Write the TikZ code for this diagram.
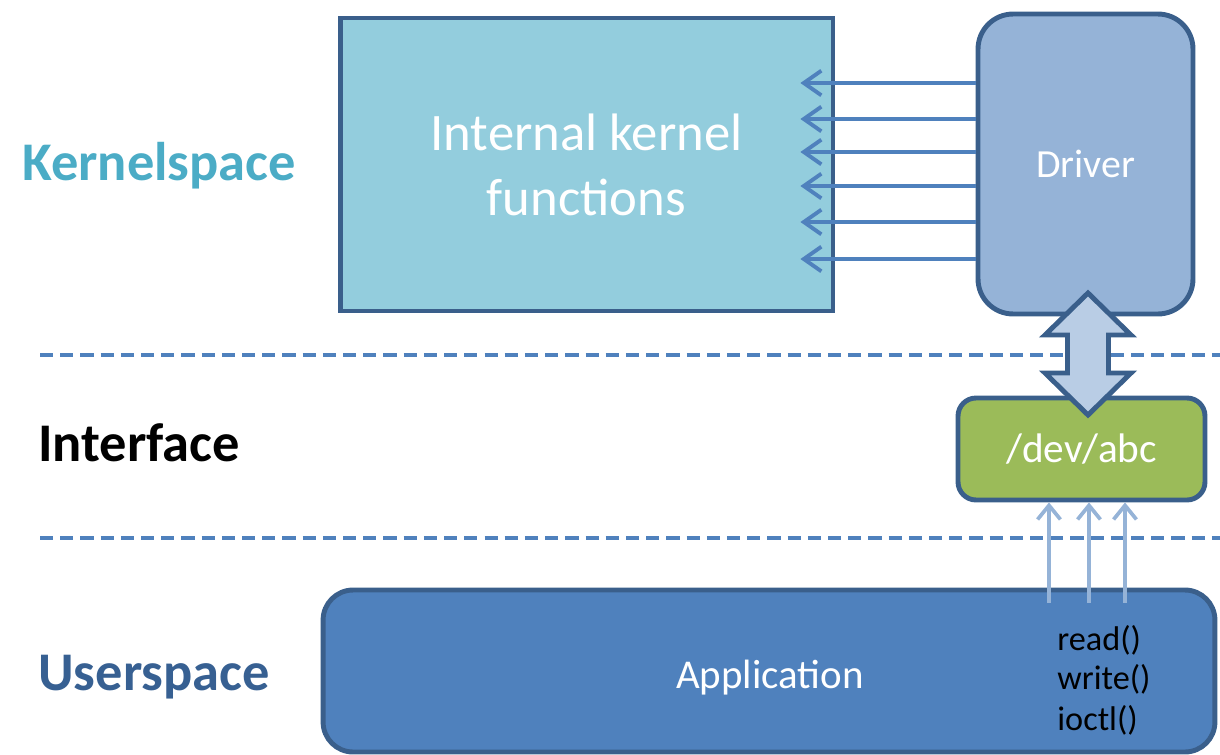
\documentclass[tikz,border=0pt]{standalone}
\usepackage{fontspec}
\setmainfont{Carlito}
\usetikzlibrary{arrows.meta,calc}

\definecolor{edgeblue}{HTML}{3A5F8B}
\definecolor{kernfill}{HTML}{93CDDD}
\definecolor{drvfill}{HTML}{95B3D7}
\definecolor{devfill}{HTML}{9BBB59}
\definecolor{appfill}{HTML}{4F81BD}
\definecolor{iofill}{HTML}{B9CDE5}
\definecolor{kernlabel}{HTML}{4BACC6}
\definecolor{userlabel}{HTML}{376092}

\tikzset{
  box/.style={draw=edgeblue, line width=2.8pt, inner sep=0pt, text=white},
  callarrow/.style={draw=appfill, line width=2.2pt, -{Straight Barb[length=10pt,width=14pt]}},
  sysarrow/.style={draw=drvfill, line width=2.1pt, -{Straight Barb[length=8pt,width=13pt]}},
  layerline/.style={draw=appfill, line width=2.2pt, dash pattern=on 7.5pt off 4pt},
  layerlabel/.style={font=\bfseries\fontsize{31}{37}\selectfont, inner sep=0pt},
  calltext/.style={font=\fontsize{19.5}{23}\selectfont, inner sep=0pt}
}

\begin{document}
\begin{tikzpicture}[x=0.02cm, y=-0.02cm]
		%%%%% START %%%%%
		\useasboundingbox (0,0) rectangle (1220,754);
		
		\draw[layerline] (40,355) -- (1220,355);
		\draw[layerline] (40,538) -- (1220,538);
		
		\node[layerlabel, text=kernlabel, anchor=base west] (kspace) at (22,180) {Kernelspace};
		\node[layerlabel, text=black, anchor=base west] (iface) at (38,461) {Interface};
		\node[layerlabel, text=userlabel, anchor=base west] (uspace) at (38,690) {Userspace};
		
		\node[box, fill=kernfill, minimum width=9.86cm, minimum height=5.86cm, align=center,
		      font=\fontsize{30}{37}\selectfont] (kern) at (586.5,164.5) {Internal kernel\\functions};
		\node[box, fill=drvfill, rounded corners=0.7cm, minimum width=4.3cm, minimum height=6cm,
		      font=\fontsize{22.7}{27}\selectfont] (drv) at (1085.5,164) {Driver};
		\node[box, fill=devfill, rounded corners=0.36cm, minimum width=4.94cm, minimum height=2.04cm,
		      font=\fontsize{23.5}{28}\selectfont] (dev) at (1081.5,449) {/dev/abc};
		\node[box, fill=appfill, rounded corners=0.6cm, minimum width=17.84cm, minimum height=3.24cm] (app) at (769,671) {};
		\node[text=white, inner sep=0pt, font=\fontsize{23.3}{28}\selectfont, anchor=base] (apptxt) at (770,688) {Application};
		
		% calls from the driver into the kernel
		\foreach \y in {83,119,152,186,222,259}
			\draw[callarrow] (drv.west |- 0,\y) -- ($(kern.east |- 0,\y)+(-35,0)$);
		
		% driver <-> device file
		\coordinate (io) at (1088,354);
		\draw[draw=edgeblue, fill=iofill, line width=2.8pt, line join=miter]
			(io) ++(0,-61) -- ++(43,42) -- ++(-22.5,0) -- ++(0,38) -- ++(22.5,0)
			-- ++(-43,42) -- ++(-43,-42) -- ++(22.5,0) -- ++(0,-38) -- ++(-22.5,0) -- cycle;
		
		% system calls
		\foreach \x in {1049,1089,1125}
			\draw[sysarrow] ($(app.north -| \x,0)+(0,15)$) -- (dev.south -| \x,0);
		
		\node[calltext, anchor=base west] (rd) at (1057,650) {read()};
		\node[calltext, anchor=base west] (wr) at (1057,689) {write()};
		\node[calltext, anchor=base west] (ioc) at (1057,730) {ioctl()};
		
		%%%%% END %%%%%
\end{tikzpicture}
\end{document}
